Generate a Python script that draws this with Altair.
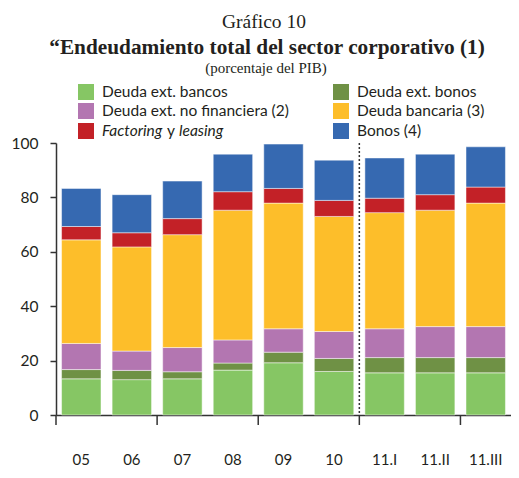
import altair as alt
import pandas as pd

periods = ["05", "06", "07", "08", "09", "10", "11.I", "11.II", "11.III"]
series = ["Deuda ext. bancos", "Deuda ext. bonos", "Deuda ext. no financiera (2)",
          "Deuda bancaria (3)", "Factoring y leasing", "Bonos (4)"]
colors = ["#86c664", "#6f9145", "#b376b1", "#fdbe2a", "#c32127", "#3669b1"]

ext_bancos = [13.3, 13.0, 13.3, 16.5, 19.2, 16.0, 15.5, 15.5, 15.5]
ext_bonos = [3.4, 3.4, 2.6, 2.6, 3.9, 4.8, 5.6, 5.6, 5.6]
ext_no_fin = [9.6, 7.1, 8.9, 8.5, 8.6, 9.9, 10.6, 11.4, 11.4]
bancaria = [38.1, 38.3, 41.5, 47.7, 46.2, 42.3, 42.7, 42.8, 45.4]
factoring = [4.9, 5.2, 5.9, 6.8, 5.4, 5.9, 5.3, 5.7, 5.9]
bonos = [14.0, 14.0, 13.8, 13.8, 16.3, 14.8, 14.8, 14.9, 14.8]
y_ticks = [0, 20, 40, 60, 80, 100]
tick_periods = ["05", "07", "09", "11.I", "11.III"]
break_period = ["11.I"]

title_main = "Gráfico 10"
title_bold = "\u201cEndeudamiento total del sector corporativo (1)"
subtitle = "(porcentaje del PIB)"
factoring_parts = [("Factoring", "italic"), ("y", "normal"), ("leasing", "italic")]

values = [ext_bancos, ext_bonos, ext_no_fin, bancaria, factoring, bonos]
rows = []
for i, (s, vals) in enumerate(zip(series, values)):
    for p, v in zip(periods, vals):
        rows.append({"period": p, "series": s, "idx": i, "value": v})
df = pd.DataFrame(rows)

W, H = 455, 272
PI, PO = 0.22, 0.11
STEP = W / (len(periods) - PI + 2 * PO)
GAP_OFF = -STEP * PI / 2
FONT = "Lato"
SERIF = "Liberation Serif"
TXT = "#231f20"

x_axis = alt.Axis(title=None, ticks=False, labelPadding=37, labelAngle=0, labelFont=FONT,
                  labelFontSize=15, labelColor=TXT, domainColor="#333333", domainWidth=1.5,
                  grid=False)
x_scale = alt.Scale(domain=periods, paddingInner=PI, paddingOuter=PO)


def xenc(bp=None):
    if bp is None:
        return alt.X("period:N", sort=periods, scale=x_scale, axis=x_axis)
    return alt.X("period:N", sort=periods, scale=x_scale, axis=x_axis, bandPosition=bp)


bars = alt.Chart(df).mark_bar(stroke="white", strokeWidth=0.8, strokeOpacity=0.6).encode(
    x=xenc(),
    y=alt.Y("value:Q", stack="zero", scale=alt.Scale(domain=[0, 100], nice=False),
            axis=alt.Axis(values=y_ticks, title=None, grid=False, tickSize=6,
                          tickColor="#333333", tickWidth=1.5, domainColor="#333333",
                          domainWidth=1.5, labelPadding=12, labelFont=FONT,
                          labelFontSize=15.5, labelColor=TXT)),
    color=alt.Color("series:N", scale=alt.Scale(domain=series, range=colors), legend=None),
    order=alt.Order("idx:Q"),
)

ticks = alt.Chart(pd.DataFrame({"period": tick_periods})).mark_rule(
    color="#333333", strokeWidth=1.5, xOffset=GAP_OFF).encode(
    x=xenc(0), y=alt.value(H), y2=alt.value(H + 10))

dotted = alt.Chart(pd.DataFrame({"period": break_period})).mark_rule(
    color="#333333", strokeWidth=1.5, strokeDash=[2, 2], xOffset=GAP_OFF).encode(
    x=xenc(0), y=alt.value(0), y2=alt.value(H))

layers = [bars, ticks, dotted]


def text_layer(t, x, y, size, font=FONT, weight="normal", style="normal", align="center",
               baseline="alphabetic"):
    return alt.Chart(pd.DataFrame({"t": [t]})).mark_text(
        font=font, fontSize=size, fontWeight=weight, fontStyle=style, align=align,
        baseline=baseline, color=TXT).encode(text="t:N", x=alt.value(x), y=alt.value(y))


layers.append(text_layer(title_main, 208, -115, 19.5, font=SERIF))
layers.append(text_layer(title_bold, 211, -89, 21.3, font=SERIF, weight="bold"))
layers.append(text_layer(subtitle, 210, -70, 15, font=SERIF))

# legend (2 columns, row-wise)
col_x = [22, 277]
row_y = [-51, -32, -12]
for i, (s, c) in enumerate(zip(series, colors)):
    col, row = i % 2, i // 2
    sx, cy = col_x[col], row_y[row]
    layers.append(alt.Chart(pd.DataFrame({"s": [s]})).mark_rect(color=c).encode(
        x=alt.value(sx), x2=alt.value(sx + 16), y=alt.value(cy - 8), y2=alt.value(cy + 8)))
    if s == "Factoring y leasing":
        offs = [0, 65, 77]
        for (part, st), o in zip(factoring_parts, offs):
            layers.append(text_layer(part, sx + 24 + o, cy + 5, 15.5, style=st, align="left"))
    else:
        layers.append(text_layer(s, sx + 24, cy + 5, 15.5, align="left"))

chart = alt.layer(*layers).properties(
    width=W, height=H,
    padding={"left": 48, "top": 135, "right": 0, "bottom": 55},
    autosize=alt.AutoSizeParams(type="none"),
).configure_view(stroke=None)

chart.save("out.html", embed_options={"renderer": "svg", "actions": False})
